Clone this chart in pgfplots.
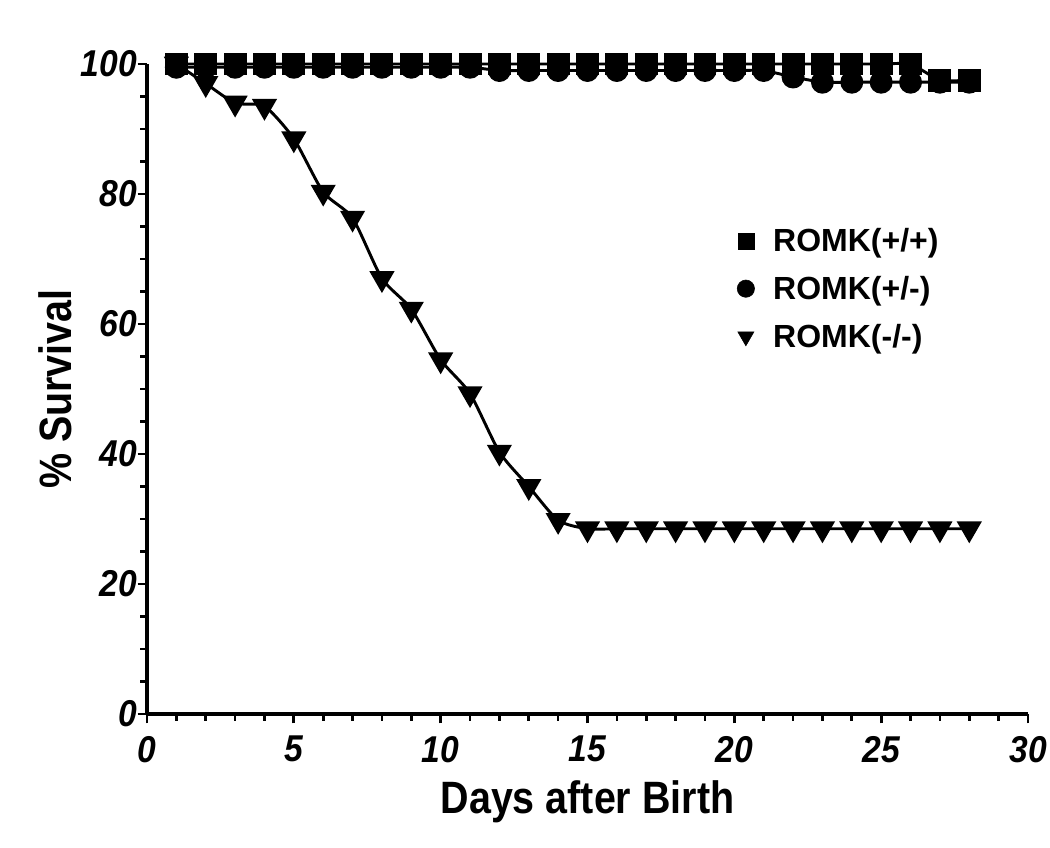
\documentclass[border=0pt]{standalone}
\usepackage{pgfplots}
\pgfplotsset{compat=1.18}
\usepackage{fontspec}
\setmainfont{Liberation Sans}
\newfontfamily\labfont[FakeStretch=0.87]{Liberation Sans}
\newfontfamily\tickfont[FakeStretch=0.9]{Liberation Sans}
\begin{document}
\begin{tikzpicture}
\useasboundingbox (-110.25pt,-99.75pt) rectangle (677.25pt,535.5pt);
\begin{axis}[
  at={(0,0)}, anchor=south west,
  scale only axis, width=660.75pt, height=487.5pt,
  xmin=0, xmax=30, ymin=0, ymax=100,
  axis lines=left,
  axis line style={line width=2.8pt, -},
  xtick={0,5,...,30}, ytick={0,20,...,100},
  minor xtick={0,1,...,30}, minor ytick={0,5,...,100},
  tick align=outside,
  major tick length=7pt, minor tick length=5pt,
  every tick/.style={line width=2pt, black},
  /pgf/number format/assume math mode=true,
  ticklabel style={font=\tickfont\fontsize{28}{28}\selectfont\bfseries\itshape},
  xticklabel style={yshift=-6pt},
  yticklabel style={xshift=3pt},
  xlabel={\labfont\fontsize{34}{34}\selectfont\bfseries Days after Birth},
  ylabel={\labfont\fontsize{34}{34}\selectfont\bfseries \% Survival},
  xlabel style={at={(axis description cs:0.5,-0.135)}, anchor=center},
  ylabel style={at={(axis description cs:-0.1044,0.5)}, anchor=center},
  clip=false,
  legend style={at={(0.662,0.756)}, anchor=north west, draw=none, fill=none,
    font=\fontsize{24}{24}\selectfont\bfseries, row sep=13pt,
    legend cell align=left},
  legend image code/.code={\path[draw=none,fill=none] (0cm,0cm) -- (0.95cm,0cm); \draw[#1] (0.3cm,0cm) -- plot coordinates {(0.3cm,0cm)};},
]
\addlegendimage{only marks, mark=square*, mark size=6pt, fill=black}
\addlegendentry{ROMK(+/+)}
\addlegendimage{only marks, mark=*, mark size=6.5pt, fill=black}
\addlegendentry{ROMK(+/-)}
\addlegendimage{only marks, mark=triangle*, mark size=7pt, fill=black, every mark/.append style={rotate=180}}
\addlegendentry{ROMK(-/-)}

% ROMK(+/-)
\addplot[forget plot, black, line width=2.2pt, mark=*, mark size=7.5pt, mark options={fill=black}, smooth, tension=0.3] coordinates {
(1,99.5)(2,99.5)(3,99.5)(4,99.5)(5,99.5)(6,99.5)(7,99.5)(8,99.5)(9,99.5)(10,99.5)
(11,99.5)(12,99)(13,99)(14,99)(15,99)(16,99)(17,99)(18,99)(19,99)(20,99)
(21,99)(22,98)(23,97.2)(24,97.2)(25,97.2)(26,97.2)(27,97.2)(28,97.2)};
% ROMK(+/+)
\addplot[forget plot, black, line width=2.2pt, mark=square*, mark size=7.5pt, mark options={fill=black}, smooth, tension=0.3] coordinates {
(1,100)(2,100)(3,100)(4,100)(5,100)(6,100)(7,100)(8,100)(9,100)(10,100)
(11,100)(12,100)(13,100)(14,100)(15,100)(16,100)(17,100)(18,100)(19,100)(20,100)
(21,100)(22,100)(23,100)(24,100)(25,100)(26,100)(27,97.5)(28,97.5)};
% ROMK(-/-)
\addplot[forget plot, black, line width=2.2pt, mark=triangle*, mark size=8.7pt, mark options={fill=black, rotate=180}, smooth, tension=0.4] coordinates {
(1,100)(2,97)(3,94)(4,93.5)(5,88.5)(6,80.3)(7,76.3)(8,67)(9,62.3)(10,54.5)
(11,49.3)(12,40.3)(13,35)(14,29.8)(15,28.5)(16,28.5)(17,28.5)(18,28.5)(19,28.5)(20,28.5)
(21,28.5)(22,28.5)(23,28.5)(24,28.5)(25,28.5)(26,28.5)(27,28.5)(28,28.5)};
\end{axis}
\end{tikzpicture}
\end{document}
